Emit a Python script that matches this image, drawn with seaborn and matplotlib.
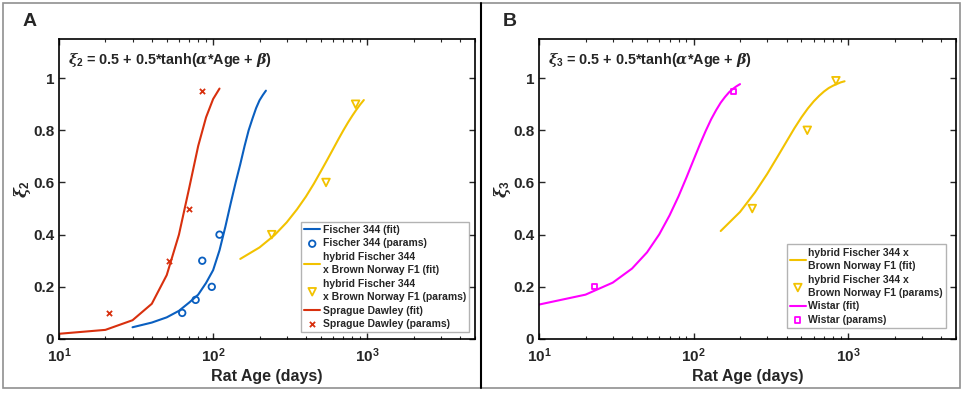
import numpy as np
import pandas as pd
import matplotlib
matplotlib.use("Agg")
import matplotlib.pyplot as plt
import seaborn as sns
from matplotlib.lines import Line2D

# Panel A: xi_2 fits and parameters
sd_fit_age = [10, 20, 30, 40, 50, 60, 70, 80, 90, 100, 110]
sd_fit_xi = [0.02, 0.035, 0.072, 0.135, 0.245, 0.40, 0.58, 0.74, 0.85, 0.92, 0.96]
sd_par_age = [21, 52, 70, 85]
sd_par_xi = [0.10, 0.30, 0.50, 0.95]

f344_fit_age = [30, 40, 50, 60, 70, 80, 90, 100, 110, 120, 130, 140, 150, 160, 170, 180, 190, 200, 210, 220]
f344_fit_xi = [0.045, 0.063, 0.083, 0.108, 0.14, 0.17, 0.215, 0.264, 0.34, 0.43, 0.52, 0.60,
               0.67, 0.74, 0.80, 0.845, 0.885, 0.915, 0.935, 0.952]
f344_par_age = [63, 77, 85, 98, 110]
f344_par_xi = [0.10, 0.15, 0.30, 0.20, 0.40]

hyb_age = [150, 200, 250, 300, 350, 400, 450, 500, 550, 600, 650, 700, 750, 800, 850, 900, 950]
hyb2_fit_xi = [0.307, 0.351, 0.398, 0.447, 0.497, 0.546, 0.595, 0.643, 0.687, 0.728,
               0.766, 0.80, 0.83, 0.856, 0.879, 0.899, 0.916]
hyb2_par_age = [240, 540, 840]
hyb2_par_xi = [0.40, 0.60, 0.90]

# Panel B: xi_3 fits and parameters
hyb3_fit_xi = [0.414, 0.487, 0.562, 0.633, 0.699, 0.757, 0.808, 0.85, 0.884, 0.911,
               0.932, 0.949, 0.962, 0.971, 0.978, 0.984, 0.988]
hyb3_par_age = [240, 545, 835]
hyb3_par_xi = [0.50, 0.80, 0.99]

wis_fit_age = [10, 20, 30, 40, 50, 60, 70, 80, 90, 100, 110, 120, 130, 140, 150, 160, 170, 180, 190, 200]
wis_fit_xi = [0.132, 0.17, 0.216, 0.27, 0.332, 0.401, 0.474, 0.547, 0.619, 0.686, 0.746,
              0.798, 0.842, 0.877, 0.906, 0.928, 0.946, 0.959, 0.969, 0.977]
wis_par_age = [23, 182]
wis_par_xi = [0.20, 0.95]

BLUE = "#0a5fc0"
RED = "#d8300e"
YELLOW = "#f2c200"
MAGENTA = "#ff00ff"

sns.set_style("ticks")
plt.rcParams["font.family"] = ["Liberation Sans", "DejaVu Sans"]
plt.rcParams["font.weight"] = "bold"
plt.rcParams["mathtext.fontset"] = "custom"
plt.rcParams["mathtext.rm"] = "Liberation Sans:bold"
plt.rcParams["mathtext.bf"] = "Liberation Sans:bold"
plt.rcParams["mathtext.it"] = "DejaVu Serif:italic"

fig = plt.figure(figsize=(9.63, 3.94), dpi=100)
axA = fig.add_axes([59 / 963, 55 / 394, 416 / 963, 300 / 394])
axB = fig.add_axes([539 / 963, 55 / 394, 417 / 963, 300 / 394])


def line(ax, x, y, color, label):
    sns.lineplot(x=x, y=y, ax=ax, color=color, lw=1.5, label=label, sort=False)


def pts(ax, x, y, color, marker, label, size=22):
    if marker == "x":
        ax.scatter(x, y, marker="x", s=size, color=color, linewidths=1.3, label=label)
    else:
        sns.scatterplot(x=x, y=y, ax=ax, marker=marker, s=size, facecolor="none",
                        edgecolor=color, linewidth=1.3, label=label)


# panel A
line(axA, f344_fit_age, f344_fit_xi, BLUE, "Fischer 344 (fit)")
pts(axA, f344_par_age, f344_par_xi, BLUE, "o", "Fischer 344 (params)")
line(axA, hyb_age, hyb2_fit_xi, YELLOW, "hybrid Fischer 344\nx Brown Norway F1 (fit)")
pts(axA, hyb2_par_age, hyb2_par_xi, YELLOW, "v", "hybrid Fischer 344\nx Brown Norway F1 (params)", 30)
line(axA, sd_fit_age, sd_fit_xi, RED, "Sprague Dawley (fit)")
pts(axA, sd_par_age, sd_par_xi, RED, "x", "Sprague Dawley (params)", 14)

# panel B
line(axB, hyb_age, hyb3_fit_xi, YELLOW, "hybrid Fischer 344 x\nBrown Norway F1 (fit)")
pts(axB, hyb3_par_age, hyb3_par_xi, YELLOW, "v", "hybrid Fischer 344 x\nBrown Norway F1 (params)", 30)
line(axB, wis_fit_age, wis_fit_xi, MAGENTA, "Wistar (fit)")
pts(axB, wis_par_age, wis_par_xi, MAGENTA, "s", "Wistar (params)", 14)

for ax, idx in [(axA, 2), (axB, 3)]:
    ax.set_xscale("log")
    ax.set_xlim(10, 5000)
    ax.set_ylim(0, 1.15)
    ax.set_yticks([0, 0.2, 0.4, 0.6, 0.8, 1])
    ax.set_yticklabels(["0", "0.2", "0.4", "0.6", "0.8", "1"])
    ax.set_xticks([10, 100, 1000])
    ax.set_xticklabels([r"$\mathbf{10^{1}}$", r"$\mathbf{10^{2}}$", r"$\mathbf{10^{3}}$"])
    ax.tick_params(which="both", direction="in", top=True, right=True, labelsize=11)
    ax.tick_params(which="major", length=4, width=1)
    ax.tick_params(which="minor", length=2.5, width=0.8)
    ax.tick_params(axis="x", pad=5)
    for s in ax.spines.values():
        s.set_linewidth(1.2)
        s.set_color("black")
    ax.set_xlabel("Rat Age (days)", fontsize=11.5, fontweight="bold", labelpad=3)
    ax.set_ylabel(r"$\xi_{%d}$" % idx, fontsize=12, labelpad=0)
    ax.text(0.022, 0.93, r"$\xi_{%d}$ = 0.5 + 0.5*tanh($\alpha$*Age + $\beta$)" % idx,
            transform=ax.transAxes, fontsize=10.4, fontweight="bold", va="center", ha="left")

leg_kw = dict(loc="lower right", fontsize=7.5, frameon=True, fancybox=False,
              edgecolor="#a0a0a0", handlelength=1.5, handletextpad=0.25,
              labelspacing=0.32, borderpad=0.3, borderaxespad=0)
legA = axA.legend(bbox_to_anchor=(0.9856, 0.023), **leg_kw)
legB = axB.legend(bbox_to_anchor=(0.976, 0.037), **leg_kw)
for leg in (legA, legB):
    leg.get_frame().set_linewidth(1.0)
    for t in leg.get_texts():
        t.set_linespacing(1.45)

fig.text(23 / 963, 1 - 22 / 394, "A", fontsize=14, fontweight="bold", va="center")
fig.text(503 / 963, 1 - 22 / 394, "B", fontsize=14, fontweight="bold", va="center")

# outer frame and divider
fig.add_artist(plt.Rectangle((3 / 963, 6 / 394), 957 / 963, 385 / 394, transform=fig.transFigure,
                             fill=False, edgecolor="#909090", lw=1.2))
fig.add_artist(Line2D([481 / 963, 481 / 963], [6 / 394, 391 / 394], transform=fig.transFigure,
                      color="black", lw=1.5))

fig.savefig("out.png", dpi=100)
